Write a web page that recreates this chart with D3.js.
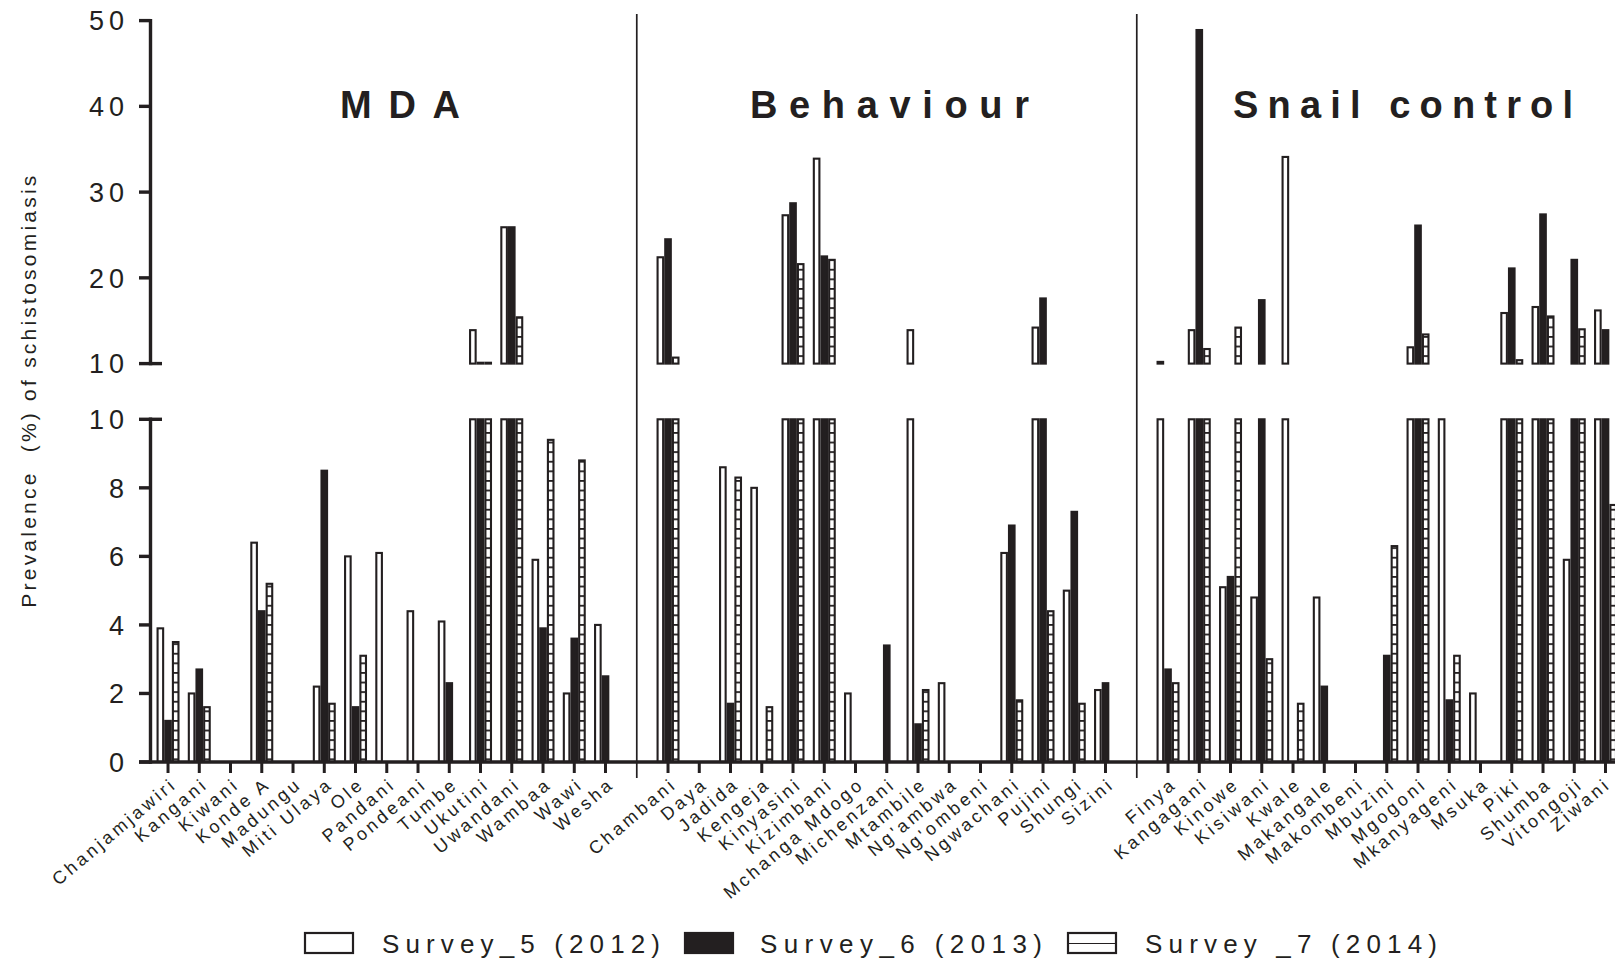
<!DOCTYPE html>
<html>
<head>
<meta charset="utf-8">
<script src="https://cdn.jsdelivr.net/npm/d3@7/dist/d3.min.js"></script>
<style>
  html, body { margin: 0; padding: 0; background: #fff; }
  svg { display: block; }
  text { font-family: "Liberation Sans", Arial, Helvetica, sans-serif; fill: #231f20; }
</style>
</head>
<body>
<svg id="chart" width="1615" height="963"></svg>
<script>
// ---------------- DATA ----------------
const groupNames = ["MDA", "Behaviour", "Snail control"];
const mdaSites = ["Chanjamjawiri","Kangani","Kiwani","Konde A","Madungu","Miti Ulaya","Ole","Pandani","Pondeani","Tumbe","Ukutini","Uwandani","Wambaa","Wawi","Wesha"];
const behaviourSites = ["Chambani","Daya","Jadida","Kengeja","Kinyasini","Kizimbani","Mchanga Mdogo","Michenzani","Mtambile","Ng'ambwa","Ng'ombeni","Ngwachani","Pujini","Shungi","Sizini"];
const snailSites = ["Finya","Kangagani","Kinowe","Kisiwani","Kwale","Makangale","Makombeni","Mbuzini","Mgogoni","Mkanyageni","Msuka","Piki","Shumba","Vitongoji","Ziwani"];

const seriesNames = ["Survey_5 (2012)", "Survey_6 (2013)", "Survey _7 (2014)"];

// values in site order: MDA, Behaviour, Snail control
const survey5 = [3.9,2.0,0,6.4,0,2.2,6.0,6.1,4.4,4.1,13.9,25.9,5.9,2.0,4.0,
                 22.4,0,8.6,8.0,27.3,33.9,2.0,0,13.9,2.3,0,6.1,14.2,5.0,2.1,
                 10.2,13.9,5.1,4.8,34.1,4.8,0,0,11.9,10.0,2.0,15.9,16.6,5.9,16.2];
const survey6 = [1.2,2.7,0,4.4,0,8.5,1.6,0,0,2.3,10.1,25.9,3.9,3.6,2.5,
                 24.5,0,1.7,0,28.7,22.5,0,3.4,1.1,0,0,6.9,17.6,7.3,2.3,
                 2.7,48.9,5.4,17.4,0,2.2,0,3.1,26.1,1.8,0,21.1,27.4,22.1,13.9];
const survey7 = [3.5,1.6,0,5.2,0,1.7,3.1,0,0,0,10.1,15.4,9.4,8.8,0,
                 10.7,0,8.3,1.6,21.6,22.1,0,0,2.1,0,0,1.8,4.4,1.7,0,
                 2.3,11.7,14.2,3.0,1.7,0,0,6.3,13.4,3.1,0,10.4,15.5,14.0,7.5];

const lowerTicks = [0, 2, 4, 6, 8, 10];
const upperTicks = [10, 20, 30, 40, 50];
const yTitle = "Prevalence  (%) of schistosomiasis";

// ---------------- BUILD ----------------
const ink = "#231f20";
const svg = d3.select("#chart");
const defs = svg.append("defs");
const hatchStep = 9.6;
defs.append("pattern").attr("id", "hatch").attr("patternUnits", "userSpaceOnUse")
  .attr("width", 20).attr("height", hatchStep)
  .call(p => {
    p.append("rect").attr("width", 20).attr("height", hatchStep).attr("fill", "#fff");
    p.append("line").attr("x1", 0).attr("x2", 20).attr("y1", 0.9).attr("y2", 0.9)
      .attr("stroke", ink).attr("stroke-width", 1.8);
  });
defs.append("pattern").attr("id", "hatchLegend").attr("patternUnits", "userSpaceOnUse")
  .attr("x", 0).attr("y", 933).attr("width", 60).attr("height", 10)
  .call(p => {
    p.append("rect").attr("width", 60).attr("height", 10).attr("fill", "#fff");
    p.append("line").attr("x1", 0).attr("x2", 60).attr("y1", 0).attr("y2", 0)
      .attr("stroke", ink).attr("stroke-width", 2.2);
  });

const groupsSites = [mdaSites, behaviourSites, snailSites];
const domain = [];
groupsSites.forEach((g, i) => { g.forEach(s => domain.push(s)); if (i < 2) domain.push("__gap" + i); });
const sites = [].concat(mdaSites, behaviourSites, snailSites);

const x = d3.scaleBand().domain(domain).range([152.4, 152.4 + 31.25 * domain.length]).padding(0);
const xs = d3.scaleBand().domain(seriesNames).range([-11.5, 11.5]).padding(0);
const yLow = d3.scaleLinear().domain([0, 10]).range([762, 419.3]);
const yUp = d3.scaleLinear().domain([10, 50]).range([363.6, 20.6]);

const fills = ["#fff", ink, "url(#hatch)"];
const series = [survey5, survey6, survey7];

const data = [];
sites.forEach((s, i) => series.forEach((vals, k) => data.push({site: s, k, v: vals[i]})));

const cx = d => x(d.site) + x.bandwidth() / 2;
const sw = 2.1;

// lower panel bars
svg.append("g").selectAll("rect").data(data.filter(d => d.v > 0)).join("rect")
  .attr("x", d => cx(d) + xs(seriesNames[d.k]) + sw / 2)
  .attr("width", xs.bandwidth() - sw)
  .attr("y", d => yLow(Math.min(d.v, 10)))
  .attr("height", d => yLow(0) - yLow(Math.min(d.v, 10)))
  .attr("fill", d => fills[d.k]).attr("stroke", ink).attr("stroke-width", sw);

// upper panel bars
svg.append("g").selectAll("rect").data(data.filter(d => d.v > 10)).join("rect")
  .attr("x", d => cx(d) + xs(seriesNames[d.k]) + sw / 2)
  .attr("width", xs.bandwidth() - sw)
  .attr("y", d => yUp(d.v))
  .attr("height", d => yUp(10) - yUp(d.v))
  .attr("fill", d => fills[d.k]).attr("stroke", ink).attr("stroke-width", sw);

// y axes
const axisX = 150.5;
function drawYAxis(scale, ticks, breakVal) {
  const g = svg.append("g");
  g.append("line").attr("x1", axisX).attr("x2", axisX)
    .attr("y1", scale(ticks[0])).attr("y2", scale(ticks[ticks.length - 1]))
    .attr("stroke", ink).attr("stroke-width", 3.4).attr("stroke-linecap", "square");
  g.selectAll("line.t").data(ticks).join("line").attr("class", "t")
    .attr("x1", 139).attr("x2", d => d === breakVal ? 162 : axisX)
    .attr("y1", d => scale(d)).attr("y2", d => scale(d))
    .attr("stroke", ink).attr("stroke-width", 3.4);
  g.selectAll("text").data(ticks).join("text")
    .attr("x", 129).attr("y", d => scale(d)).attr("dy", "0.36em")
    .attr("text-anchor", "end").attr("font-size", 27).attr("letter-spacing", 5)
    .text(d => d);
}
drawYAxis(yLow, lowerTicks, 10);
drawYAxis(yUp, upperTicks, 10);

// x axis
svg.append("line").attr("x1", 139).attr("x2", 1615).attr("y1", yLow(0)).attr("y2", yLow(0))
  .attr("stroke", ink).attr("stroke-width", 3.4);
svg.append("g").selectAll("line").data(sites).join("line")
  .attr("x1", d => x(d) + x.bandwidth() / 2).attr("x2", d => x(d) + x.bandwidth() / 2)
  .attr("y1", yLow(0)).attr("y2", yLow(0) + 11)
  .attr("stroke", ink).attr("stroke-width", 3);

// dividers
svg.append("g").selectAll("line").data(domain.filter(d => d.startsWith("__gap"))).join("line")
  .attr("x1", d => x(d) + x.bandwidth() / 2).attr("x2", d => x(d) + x.bandwidth() / 2)
  .attr("y1", 14).attr("y2", 778)
  .attr("stroke", ink).attr("stroke-width", 1.7);

// x labels
svg.append("g").selectAll("text").data(sites).join("text")
  .attr("transform", d => `translate(${Math.min(x(d) + x.bandwidth() / 2 + 10, 1612)},${786}) rotate(-40)`)
  .attr("text-anchor", "end").attr("font-size", 18).attr("letter-spacing", 3.3)
  .text(d => d);

// group titles
const titlePos = [[340, 120], [750, 279], [1233, 340]];
svg.append("g").selectAll("text").data(groupNames).join("text")
  .attr("x", (d, i) => titlePos[i][0]).attr("y", 118)
  .attr("font-size", 38).attr("font-weight", "bold")
  .attr("textLength", (d, i) => titlePos[i][1]).attr("lengthAdjust", "spacing")
  .style("white-space", "pre")
  .text(d => d);

// y title
svg.append("text")
  .attr("transform", "translate(35.5,607.7) rotate(-90)")
  .attr("font-size", 21).attr("textLength", 432).attr("lengthAdjust", "spacing")
  .style("white-space", "pre")
  .text(yTitle);

// legend
const legX = [305, 685, 1068];
const legTextX = [382, 760, 1145];
const legTextLen = [278, 282, 292];
const lg = svg.append("g");
lg.selectAll("rect").data(seriesNames).join("rect")
  .attr("x", (d, i) => legX[i]).attr("y", 933).attr("width", 48).attr("height", 20)
  .attr("fill", (d, i) => i === 2 ? "url(#hatchLegend)" : fills[i])
  .attr("stroke", ink).attr("stroke-width", 2.2);
lg.selectAll("text").data(seriesNames).join("text")
  .attr("x", (d, i) => legTextX[i]).attr("y", 953)
  .attr("font-size", 26).attr("textLength", (d, i) => legTextLen[i]).attr("lengthAdjust", "spacing")
  .style("white-space", "pre")
  .text(d => d);
</script>
</body>
</html>
